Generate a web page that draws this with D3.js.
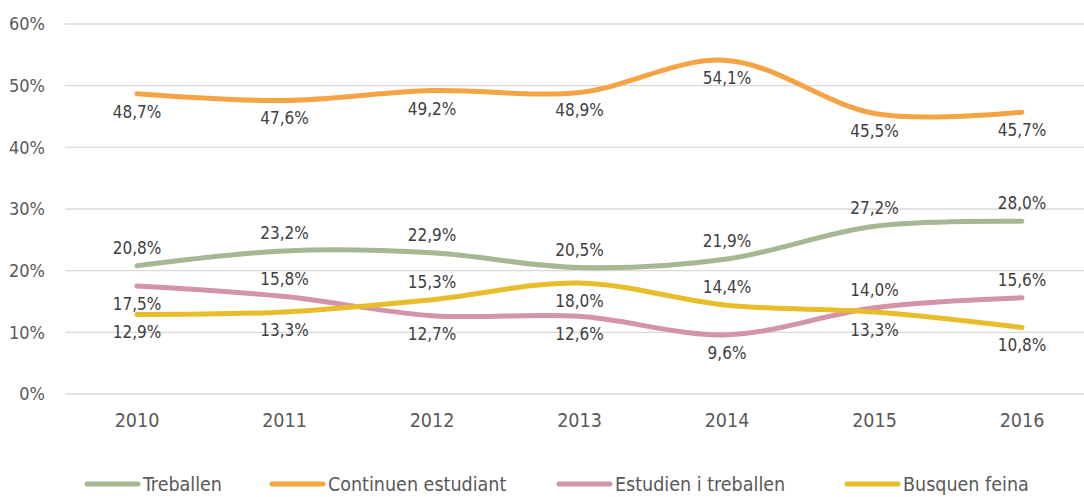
<!DOCTYPE html>
<html>
<head>
<meta charset="utf-8">
<script src="https://cdn.jsdelivr.net/npm/d3@7"></script>
<style>
  body { margin: 0; background: #fff; }
  svg { font-family: "DejaVu Sans", sans-serif; font-stretch: condensed; }
</style>
</head>
<body>
<div id="chart"></div>
<script>
const years = ["2010", "2011", "2012", "2013", "2014", "2015", "2016"];
const seriesNames = ["Treballen", "Continuen estudiant", "Estudien i treballen", "Busquen feina"];
const treballen = [20.8, 23.2, 22.9, 20.5, 21.9, 27.2, 28.0];
const continuen = [48.7, 47.6, 49.2, 48.9, 54.1, 45.5, 45.7];
const estudien = [17.5, 15.8, 12.7, 12.6, 9.6, 14.0, 15.6];
const busquen = [12.9, 13.3, 15.3, 18.0, 14.4, 13.3, 10.8];
const yTicks = [0, 10, 20, 30, 40, 50, 60];
const colors = ["#a6b893", "#f5a445", "#d393a8", "#e8bd2a"];
// label placement per point: 1 = above the line, -1 = below
const labelSide = [
  [1, 1, 1, 1, 1, 1, 1],
  [-1, -1, -1, -1, -1, -1, -1],
  [-1, 1, -1, -1, -1, 1, 1],
  [-1, -1, 1, -1, 1, -1, -1],
];

const width = 1084, height = 497;
const svg = d3.select("#chart").append("svg")
  .attr("width", width).attr("height", height);

const x = d3.scalePoint().domain(years).range([137, 1022]);
const y = d3.scaleLinear().domain([0, 60]).range([394, 24]);

// grid
svg.append("g").selectAll("line")
  .data(yTicks).enter().append("line")
  .attr("x1", 65).attr("x2", width)
  .attr("y1", d => y(d)).attr("y2", d => y(d))
  .attr("stroke", "#d9d9d9").attr("stroke-width", 1.3);

// y tick labels
svg.append("g").selectAll("text")
  .data(yTicks).enter().append("text")
  .attr("x", 45).attr("y", d => y(d))
  .attr("text-anchor", "end").attr("dy", "0.35em")
  .attr("font-size", 18).attr("fill", "#595959")
  .text(d => d + "%");

// x labels
svg.append("g").selectAll("text")
  .data(years).enter().append("text")
  .attr("x", d => x(d)).attr("y", 420)
  .attr("text-anchor", "middle").attr("dy", "0.35em")
  .attr("font-size", 19.5).attr("fill", "#595959")
  .text(d => d);

const allSeries = [treballen, continuen, estudien, busquen];
const line = d3.line()
  .x((d, i) => x(years[i]))
  .y(d => y(d))
  .curve(d3.curveCardinal.tension(0));

svg.append("g").selectAll("path")
  .data(allSeries).enter().append("path")
  .attr("d", line)
  .attr("fill", "none")
  .attr("stroke", (d, i) => colors[i])
  .attr("stroke-width", 5)
  .attr("stroke-linecap", "round");

const fmt = v => v.toFixed(1).replace(".", ",") + "%";
allSeries.forEach((s, si) => {
  svg.append("g").selectAll("text")
    .data(s).enter().append("text")
    .attr("x", (d, i) => x(years[i]))
    .attr("y", (d, i) => y(d) + (labelSide[si][i] > 0 ? -18 : 18))
    .attr("text-anchor", "middle").attr("dy", "0.35em")
    .attr("font-size", 17).attr("fill", "#404040")
    .text(d => fmt(d));
});

// legend
const legendX = [85, 270, 557, 845];
const legend = svg.append("g").selectAll("g")
  .data(seriesNames).enter().append("g")
  .attr("transform", (d, i) => `translate(${legendX[i]},484)`);
legend.append("line")
  .attr("x1", 2).attr("x2", 53)
  .attr("stroke", (d, i) => colors[i])
  .attr("stroke-width", 5).attr("stroke-linecap", "round");
legend.append("text")
  .attr("x", 58).attr("dy", "0.35em")
  .attr("font-size", 19.5).attr("fill", "#595959")
  .text(d => d);
</script>
</body>
</html>
